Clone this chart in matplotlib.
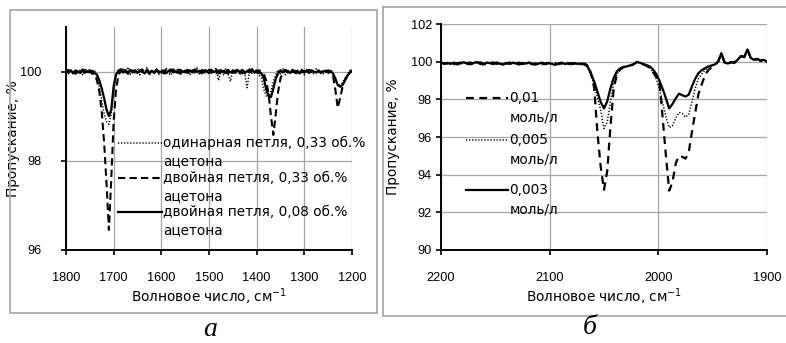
import numpy as np
import matplotlib
matplotlib.use("Agg")
import matplotlib.pyplot as plt
from matplotlib.lines import Line2D
from matplotlib.patches import Rectangle

plt.rcParams['font.family'] = ['DejaVu Sans']

# ---- panel a: acetone, 1800..1200 cm-1, step 5 ----
wn_a = np.arange(1800, 1199, -5)

single_033 = [
    100.08, 99.95, 100.05, 99.93, 100.06, 99.97, 100.04, 99.92, 100.07, 99.98,
    100.05, 99.94, 100.03, 99.88, 99.65, 99.35, 99.05, 98.88, 98.82, 99.05,
    99.55, 99.90, 100.06, 99.95, 100.08, 99.96, 100.10, 99.94, 100.05, 99.97,
    100.07, 99.93, 100.04, 99.96, 100.09, 99.92, 100.03, 99.98, 100.06, 99.94,
    100.05, 99.93, 100.07, 99.97, 99.92, 100.06, 99.95, 100.08, 99.94, 100.03,
    99.96, 100.07, 99.92, 100.05, 99.97, 100.08, 99.93, 100.04, 99.95, 100.06,
    99.94, 100.05, 99.97, 100.09, 99.80, 100.03, 99.93, 100.06, 99.95, 99.78,
    100.04, 99.96, 100.07, 99.92, 100.05, 99.95, 99.64, 100.02, 100.08, 99.95,
    100.06, 99.92, 99.85, 99.60, 99.45, 99.42, 99.55, 99.78, 99.93, 100.04,
    99.95, 100.06, 99.93, 100.04, 99.97, 100.07, 99.94, 100.03, 99.96, 100.05,
    99.93, 100.05, 99.96, 100.03, 99.94, 100.06, 99.97, 100.02, 99.95, 100.04,
    99.96, 100.03, 99.94, 99.82, 99.72, 99.70, 99.75, 99.85, 99.93, 100.02,
    100.05,
]

double_033 = [
    99.96, 100.04, 99.98, 100.02, 99.95, 100.03, 99.99, 100.05, 99.97, 100.02,
    100.03, 99.96, 99.95, 99.80, 99.55, 99.10, 98.40, 97.50, 96.45, 97.60,
    98.90, 99.60, 99.92, 100.04, 99.97, 100.02, 99.95, 100.06, 99.98, 100.03,
    99.96, 100.02, 100.05, 99.97, 100.01, 99.95, 100.03, 99.99, 100.04, 99.97,
    100.02, 99.96, 100.04, 99.98, 100.01, 100.05, 99.97, 100.02, 99.95, 100.03,
    99.98, 100.04, 99.96, 100.02, 99.99, 100.05, 99.97, 100.03, 99.98, 100.01,
    100.04, 99.97, 100.02, 99.96, 100.03, 99.99, 100.05, 99.98, 99.96, 100.02,
    99.97, 100.03, 99.99, 100.04, 99.96, 100.02, 99.98, 100.05, 99.97, 100.02,
    99.98, 100.03, 99.99, 99.95, 99.80, 99.50, 99.00, 98.58, 99.05, 99.55,
    99.85, 99.97, 100.03, 99.98, 100.04, 99.99, 100.02, 99.96, 100.03, 99.98,
    100.02, 99.97, 100.04, 99.99, 100.01, 99.96, 100.03, 99.98, 100.02, 99.99,
    100.03, 99.97, 99.92, 99.60, 99.19, 99.40, 99.65, 99.80, 99.90, 99.98,
    100.03,
]

double_008 = [
    100.05, 99.98, 100.03, 99.96, 100.02, 100.00, 99.97, 100.04, 99.99, 100.01,
    99.98, 100.02, 99.97, 99.93, 99.80, 99.62, 99.40, 99.15, 99.00, 99.15,
    99.68, 99.93, 100.02, 100.05, 99.98, 100.03, 99.97, 100.04, 99.99, 100.02,
    99.97, 100.03, 100.00, 99.96, 100.04, 99.98, 100.02, 99.97, 100.03, 100.00,
    99.98, 100.03, 99.96, 100.02, 100.05, 99.98, 100.01, 99.97, 100.04, 99.99,
    100.02, 99.97, 100.03, 99.98, 100.05, 99.99, 100.02, 99.96, 100.03, 100.00,
    99.97, 100.04, 99.99, 100.02, 99.96, 100.03, 100.00, 99.97, 100.04, 99.98,
    100.02, 99.97, 100.03, 99.99, 100.04, 99.96, 100.02, 99.98, 100.05, 99.99,
    100.02, 99.97, 99.96, 99.85, 99.60, 99.45, 99.43, 99.62, 99.84, 99.96,
    100.03, 99.98, 100.04, 100.01, 99.97, 100.03, 99.99, 100.02, 99.96, 100.03,
    99.98, 100.02, 99.97, 100.03, 100.00, 99.98, 100.02, 99.97, 100.01, 100.02,
    99.99, 100.02, 99.96, 99.85, 99.70, 99.66, 99.70, 99.80, 99.90, 99.97,
    100.02,
]

labels_a = ["одинарная петля, 0,33 об.%", "двойная петля, 0,33 об.%",
            "двойная петля, 0,08 об.%"]

# ---- panel b: 2200..1900 cm-1, step 3 ----
wn_b = np.arange(2200, 1899, -3)

conc_001 = [
    99.95, 99.88, 99.93, 99.97, 99.86, 99.92, 99.95, 99.87, 99.90, 99.96,
    99.88, 99.92, 99.97, 99.89, 99.85, 99.93, 99.96, 99.88, 99.92, 99.87,
    99.90, 99.96, 99.88, 99.92, 99.95, 99.87, 99.90, 99.94, 99.86, 99.91,
    99.95, 99.87, 99.90, 99.93, 99.88, 99.92, 99.86, 99.94, 99.90, 99.87,
    99.92, 99.88, 99.91, 99.86, 99.90, 99.80, 99.40, 98.60, 96.20, 94.40,
    93.20, 94.20, 96.60, 98.60, 99.35, 99.60, 99.70, 99.75, 99.80, 99.86,
    99.97, 99.94, 99.86, 99.78, 99.68, 99.45, 99.20, 98.90, 97.00, 95.00,
    93.15, 93.60, 94.60, 95.00, 94.95, 94.85, 95.20, 96.30, 97.30, 98.30,
    98.80, 99.30, 99.55, 99.70, 99.82, 100.00, 100.42, 99.95, 99.90, 99.97,
    99.94, 100.10, 100.30, 100.24, 100.65, 100.20, 100.10, 100.14, 100.05, 100.08,
    100.00,
]

conc_0005 = [
    99.98, 99.92, 99.88, 99.95, 99.90, 99.93, 99.86, 99.94, 99.97, 99.89,
    99.90, 99.95, 99.92, 99.86, 99.91, 99.96, 99.89, 99.93, 99.87, 99.90,
    99.95, 99.91, 99.87, 99.94, 99.90, 99.86, 99.92, 99.95, 99.90, 99.85,
    99.93, 99.89, 99.92, 99.96, 99.87, 99.90, 99.93, 99.86, 99.91, 99.95,
    99.88, 99.92, 99.87, 99.91, 99.86, 99.70, 99.25, 98.75, 98.10, 97.40,
    96.45, 96.80, 97.90, 98.90, 99.35, 99.60, 99.70, 99.74, 99.80, 99.86,
    99.96, 99.93, 99.85, 99.78, 99.68, 99.45, 99.10, 98.55, 97.80, 97.05,
    96.50, 96.60, 97.00, 97.30, 97.25, 97.05, 97.20, 97.90, 98.60, 99.10,
    99.35, 99.55, 99.70, 99.78, 99.85, 100.00, 100.40, 99.95, 99.90, 99.96,
    99.93, 100.08, 100.28, 100.22, 100.60, 100.18, 100.08, 100.12, 100.03, 100.08,
    99.98,
]

conc_0003 = [
    99.95, 99.90, 99.93, 99.88, 99.95, 99.85, 99.92, 99.97, 99.90, 99.86,
    99.93, 99.98, 99.88, 99.85, 99.95, 99.92, 99.87, 99.96, 99.90, 99.84,
    99.92, 99.88, 99.95, 99.90, 99.85, 99.93, 99.89, 99.96, 99.88, 99.84,
    99.90, 99.95, 99.86, 99.92, 99.88, 99.83, 99.90, 99.95, 99.87, 99.92,
    99.86, 99.93, 99.88, 99.90, 99.85, 99.75, 99.35, 98.95, 98.40, 97.85,
    97.52, 97.90, 98.60, 99.15, 99.50, 99.65, 99.72, 99.75, 99.80, 99.85,
    99.98, 99.95, 99.88, 99.82, 99.75, 99.60, 99.35, 99.00, 98.55, 98.05,
    97.52, 97.75, 98.05, 98.30, 98.22, 98.15, 98.25, 98.70, 99.10, 99.40,
    99.55, 99.65, 99.75, 99.80, 99.85, 100.00, 100.45, 99.95, 99.90, 99.98,
    99.95, 100.10, 100.30, 100.25, 100.65, 100.20, 100.10, 100.15, 100.05, 100.10,
    100.00,
]

labels_b = ["0,01", "0,005", "0,003"]

DASHED = (0, (3.5, 2))
DASHED_B = (0, (3.5, 2.5))
DOTTED = (0, (0.8, 1.2))
TICK_FONT = ['Liberation Sans', 'DejaVu Sans']
TICK_FS = 9.2
FS = 9.8
W, H = 786, 343

fig = plt.figure(figsize=(W / 100, H / 100), dpi=100)


def fx(px):
    return px / W


def fy(py):
    return 1 - py / H


def style_axes(ax, ypad, ylab_x):
    for s in ('top', 'right'):
        ax.spines[s].set_visible(False)
    for s in ('left', 'bottom'):
        ax.spines[s].set_linewidth(1.4)
    ax.grid(True, color='#a6a6a6', linewidth=0.9)
    ax.set_axisbelow(True)
    ax.tick_params(axis='both', direction='out', length=3.5, width=1.2,
                   labelsize=TICK_FS, color='black')
    ax.tick_params(axis='x', pad=12)
    ax.tick_params(axis='y', pad=ypad)
    for lab in ax.get_xticklabels() + ax.get_yticklabels():
        lab.set_family(TICK_FONT)
    ax.set_xlabel('Волновое число, см$^{-1}$', fontsize=FS, labelpad=2)
    ax.set_ylabel('Пропускание, %', fontsize=FS)
    ax.yaxis.set_label_coords(ylab_x, 0.5)


def legend_rows(ax, x0, x1, ys, styles, widths, first, second, dy):
    for y, ls, lw, t1 in zip(ys, styles, widths, first):
        ax.add_line(Line2D([x0, x1], [y, y], transform=ax.transAxes,
                           color='black', linestyle=ls, linewidth=lw,
                           clip_on=False))
        ax.text(x1 + 0.004, y, t1, transform=ax.transAxes, fontsize=FS,
                va='center', ha='left')
        ax.text(x1 + 0.004, y - dy, second, transform=ax.transAxes,
                fontsize=FS, va='center', ha='left')


# panel frames
fig.add_artist(Rectangle((fx(10), fy(313)), fx(367), 303 / H,
                         transform=fig.transFigure, fill=False,
                         edgecolor='#ababab', linewidth=1.3))
for xs, ys in (([383, 786], [7, 7]), ([383, 786], [316, 316]),
               ([383, 383], [7, 316])):
    fig.add_artist(Line2D([fx(v) for v in xs], [fy(v) for v in ys],
                          transform=fig.transFigure, color='#ababab',
                          linewidth=1.3))

# ---- panel a ----
ax1 = fig.add_axes([fx(66), fy(250), fx(352 - 66), (250 - 27) / H])
ax1.plot(wn_a, single_033, color='black', linestyle=DOTTED, linewidth=1.1)
ax1.plot(wn_a, double_033, color='black', linestyle=DASHED, linewidth=1.5)
ax1.plot(wn_a, double_008, color='black', linestyle='-', linewidth=1.6)
ax1.set_xlim(1800, 1200)
ax1.set_ylim(96, 101)
ax1.set_xticks(np.arange(1800, 1199, -100))
ax1.set_yticks([96, 98, 100])
style_axes(ax1, ypad=14, ylab_x=-0.16)
legend_rows(ax1, 0.182, 0.336, [0.480, 0.323, 0.170],
            [DOTTED, DASHED, '-'], [1.1, 1.5, 1.6], labels_a, 'ацетона', 0.08)

# ---- panel b ----
ax2 = fig.add_axes([fx(441), fy(250), fx(767 - 441), (250 - 24) / H])
ax2.plot(wn_b, conc_001, color='black', linestyle=DASHED_B, linewidth=1.6)
ax2.plot(wn_b, conc_0005, color='black', linestyle=DOTTED, linewidth=1.1)
ax2.plot(wn_b, conc_0003, color='black', linestyle='-', linewidth=1.6)
ax2.set_xlim(2200, 1900)
ax2.set_ylim(90, 102)
ax2.set_xticks([2200, 2100, 2000, 1900])
ax2.set_yticks(np.arange(90, 103, 2))
style_axes(ax2, ypad=3, ylab_x=-0.125)
legend_rows(ax2, 0.077, 0.206, [0.673, 0.487, 0.265],
            [DASHED_B, DOTTED, '-'], [1.6, 1.1, 1.6], labels_b,
            'моль/л', 0.088)

# panel captions
fig.text(fx(210), fy(330), 'а', fontsize=20, style='italic',
         family='Liberation Serif', ha='center', va='center')
fig.text(fx(590), fy(327), 'б', fontsize=20, style='italic',
         family='Liberation Serif', ha='center', va='center')

fig.savefig('out.png', dpi=100)
